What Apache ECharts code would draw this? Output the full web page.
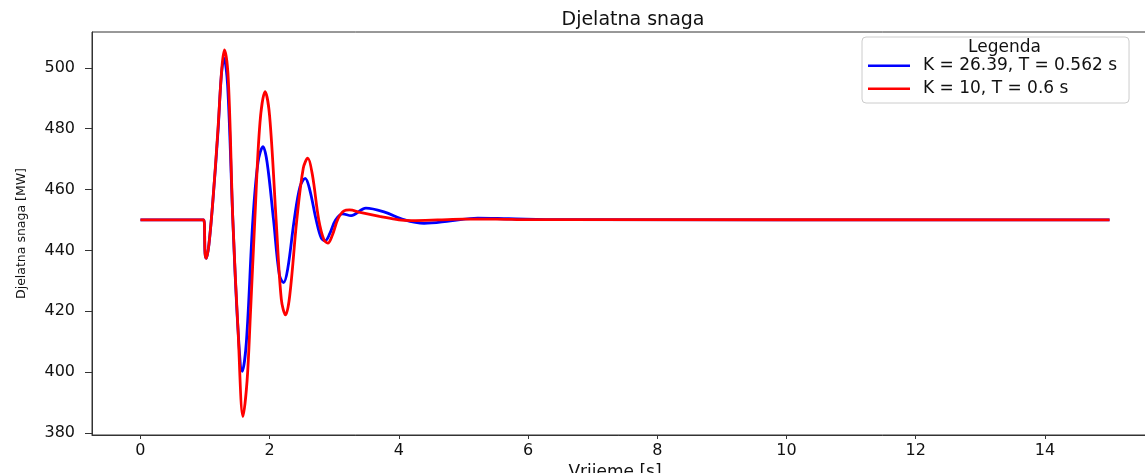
<!DOCTYPE html>
<html>
<head>
<meta charset="utf-8">
<script src="https://cdn.jsdelivr.net/npm/echarts@6/dist/echarts.min.js"></script>
<style>
html,body{margin:0;padding:0;background:#fff;}
#chart{width:1145px;height:473px;}
</style>
</head>
<body>
<div id="chart"></div>
<script>
const chartTitle = 'Djelatna snaga';
const xName = 'Vrijeme [s]';
const yName = 'Djelatna snaga [MW]';
const legendTitle = 'Legenda';
const blueName = 'K = 26.39, T = 0.562 s';
const redName = 'K = 10, T = 0.6 s';
const xTicks = [0, 2, 4, 6, 8, 10, 12, 14];
const yTicks = [380, 400, 420, 440, 460, 480, 500];

const blueT = [0, 0.98, 1.0, 1.02, 1.06, 1.12, 1.20, 1.25, 1.293, 1.35, 1.43, 1.51, 1.576, 1.64, 1.74, 1.82, 1.896, 1.96, 2.06, 2.15, 2.215, 2.28, 2.38, 2.47, 2.55, 2.62, 2.72, 2.80, 2.86, 2.93, 3.02, 3.13, 3.26, 3.49, 3.78, 4.05, 4.39, 4.8, 5.22, 5.7, 6.5, 15];
const blueP = [450, 450, 439, 437.4, 442, 456, 479, 497, 503.2, 494, 450, 414, 400.2, 410, 450, 469, 474.1, 469, 450, 432, 429.4, 434, 450, 461, 463.7, 460, 450, 444, 443.2, 445.5, 450, 452.0, 451.4, 453.9, 452.6, 450.3, 448.9, 449.7, 450.6, 450.4, 450.1, 450];

const redT = [0, 0.98, 1.0, 1.02, 1.06, 1.12, 1.20, 1.26, 1.30, 1.36, 1.43, 1.51, 1.587, 1.65, 1.70, 1.77, 1.85, 1.93, 2.0, 2.10, 2.18, 2.246, 2.31, 2.42, 2.52, 2.59, 2.66, 2.76, 2.84, 2.90, 2.97, 3.06, 3.15, 3.235, 3.4, 3.7, 4.0, 4.2, 4.6, 5.0, 5.5, 6.0, 7.0, 15];
const redP = [450, 450, 439, 437.4, 442, 456, 480, 500, 505.9, 496, 450, 414, 385.4, 397, 418, 450, 482, 492.2, 484, 450, 424, 418.8, 425, 450, 467, 470.3, 465, 450, 443.5, 442.4, 445, 450.5, 453, 453.3, 452.5, 451.2, 450.0, 449.8, 450.0, 450.3, 450.3, 450.1, 450.1, 450];

const lineIcon = 'path://M0,0L0,14L0,14Z M0,6L42,6L42,8.5L0,8.5Z';

const chart = echarts.init(document.getElementById('chart'), null, {renderer: 'canvas'});
const font = 'DejaVu Sans';
chart.setOption({
  animation: false,
  backgroundColor: '#ffffff',
  title: {
    text: chartTitle,
    left: 628, top: 6, textAlign: 'center',
    textStyle: {fontFamily: font, fontSize: 19, fontWeight: 'normal', color: '#111'}
  },
  legend: {
    left: 862, top: 37, orient: 'vertical',
    padding: [20, 12, 6, 6],
    itemWidth: 42, itemHeight: 14, itemGap: 6,
    icon: lineIcon,
    backgroundColor: '#ffffff', borderColor: '#cccccc', borderWidth: 1, borderRadius: 4,
    textStyle: {fontFamily: font, fontSize: 17, color: '#111', padding: [0, 0, 0, 8]},
    data: [blueName, redName]
  },
  graphic: [{
    type: 'text', left: 968, top: 39, z: 100,
    style: {text: legendTitle, fontFamily: font, fontSize: 17, fill: '#111'}
  }],
  grid: {left: 92, right: -13, top: 32, bottom: 38, outerBoundsMode: 'none', containLabel: false,
         show: true, borderColor: '#333', borderWidth: 1, backgroundColor: 'transparent'},
  xAxis: {
    type: 'value', min: -0.75, max: 15.75,
    name: xName, nameLocation: 'middle', nameGap: 22,
    nameTextStyle: {fontFamily: font, fontSize: 17, color: '#111', padding: [0, 20, 0, 0]},
    axisLine: {show: true, onZero: false, lineStyle: {color: '#333', width: 1}},
    axisTick: {show: true, length: 4, customValues: xTicks, lineStyle: {color: '#333'}},
    axisLabel: {customValues: xTicks, fontFamily: font, fontSize: 16, color: '#111', margin: 8},
    splitLine: {show: false}
  },
  yAxis: {
    type: 'value', min: 379.3, max: 511.8,
    name: yName, nameLocation: 'middle', nameGap: 64,
    nameTextStyle: {fontFamily: font, fontSize: 12.5, color: '#111'},
    axisLine: {show: true, onZero: false, lineStyle: {color: '#333', width: 1}},
    axisTick: {show: true, length: 7, customValues: yTicks, lineStyle: {color: '#333'}},
    axisLabel: {customValues: yTicks, fontFamily: font, fontSize: 16, color: '#111', margin: 17},
    splitLine: {show: false}
  },
  series: [
    {name: blueName, type: 'line', symbol: 'none', smooth: 0.35, color: '#0000ff',
     lineStyle: {color: '#0000ff', width: 2.8},
     data: blueT.map((t, i) => [t, blueP[i]])},
    {name: redName, type: 'line', symbol: 'none', smooth: 0.35, color: '#ff0000',
     lineStyle: {color: '#ff0000', width: 2.8},
     data: redT.map((t, i) => [t, redP[i]])}
  ]
});
</script>
</body>
</html>
